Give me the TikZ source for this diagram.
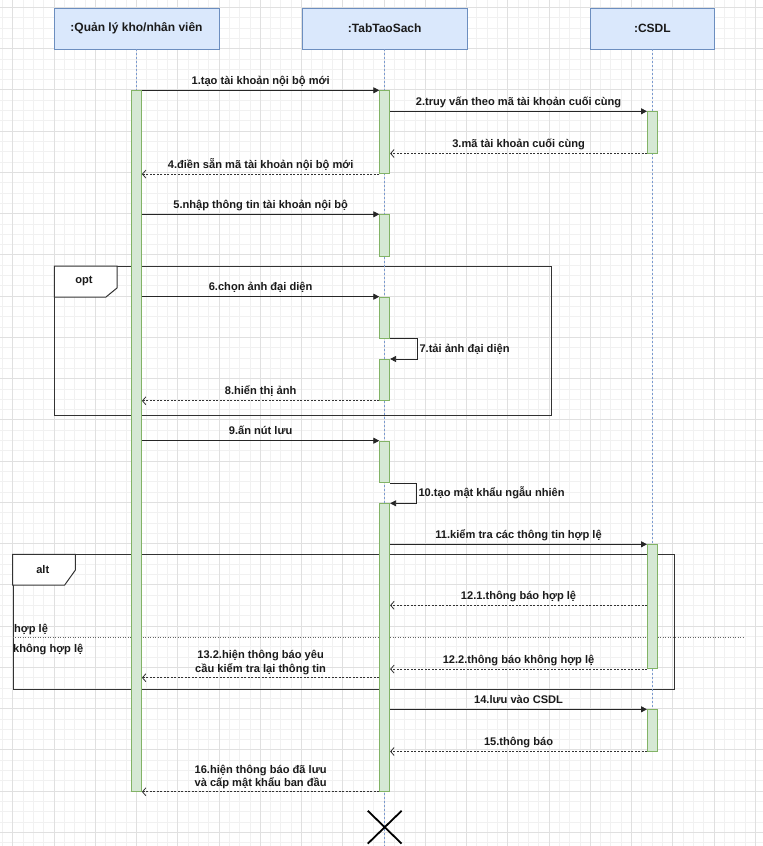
\documentclass[tikz,border=0pt]{standalone}
\usepackage{fontspec}
\setmainfont{Liberation Sans}
\usetikzlibrary{arrows.meta,shapes.misc,calc}
\definecolor{hdrfill}{HTML}{DAE8FC}
\definecolor{hdrline}{HTML}{6C8EBF}
\definecolor{actfill}{HTML}{D5E8D4}
\definecolor{actline}{HTML}{82B366}
\definecolor{gridminor}{HTML}{F1F1F1}
\definecolor{gridmajor}{HTML}{E0E0E0}
\definecolor{lifeblue}{HTML}{7A9AD0}
\definecolor{framecol}{HTML}{333333}
\definecolor{txt}{HTML}{1A1A1A}
\begin{document}
\begin{tikzpicture}[x=1pt,y=-1pt,
  hdr/.style={draw=hdrline, fill=hdrfill, line width=0.8pt, minimum height=41pt, inner sep=0pt, text=txt, font=\bfseries\fontsize{12}{14}\selectfont},
  act/.style={draw=actline, fill=actfill, line width=0.8pt, minimum width=10pt, inner sep=0pt, anchor=north},
  life/.style={draw=lifeblue, line width=0.7pt, dash pattern=on 2pt off 2pt},
  msg/.style={draw=black!85, line width=0.8pt, -{Triangle[length=6pt,width=6pt]}},
  ret/.style={draw=black!80, line width=0.8pt, dash pattern=on 2pt off 1.5pt, -{Straight Barb[length=3.5pt,width=8pt]}},
  lbl/.style={text=txt, font=\bfseries\fontsize{11.1}{13.5}\selectfont, text depth=2.5pt, inner xsep=1pt, inner ysep=3pt},
  lbltwo/.style={text=txt, font=\bfseries\fontsize{11.1}{13.5}\selectfont, align=center, inner xsep=1pt, inner ysep=2.5pt},
  selflbl/.style={text=txt, font=\bfseries\fontsize{11.1}{13.5}\selectfont, inner sep=2pt},
  frame/.style={draw=framecol, line width=1pt, inner sep=0pt},
  tabst/.style={draw=framecol, fill=white, line width=1pt},
  frlbl/.style={text=txt, font=\bfseries\fontsize{11.1}{13.5}\selectfont, inner sep=0pt},
  divider/.style={draw=black!60, line width=0.8pt, dash pattern=on 1pt off 1.5pt},
  gminor/.style={draw=gridminor, line width=0.7pt},
  gmajor/.style={draw=gridmajor, line width=0.8pt}
]
\useasboundingbox (0,0) rectangle (763,846);
\fill[white] (0,0) rectangle (763,846);
% grid
\begin{scope}
\clip (0,0) rectangle (763,846);
\foreach \k in {-1,...,73} {\pgfmathsetmacro\gx{12.7+\k*10.3125}\draw[gminor] (\gx,0) -- (\gx,846);}
\foreach \k in {-1,...,81} {\pgfmathsetmacro\gy{7.3+\k*10.3125}\draw[gminor] (0,\gy) -- (763,\gy);}
\foreach \k in {0,...,18} {\pgfmathsetmacro\gx{12.7+\k*41.25}\draw[gmajor] (\gx,0) -- (\gx,846);}
\foreach \k in {0,...,20} {\pgfmathsetmacro\gy{7.3+\k*41.25}\draw[gmajor] (0,\gy) -- (763,\gy);}
\end{scope}

% headers
\node[hdr, minimum width=165pt] (h1) at (136.5,28.5) {:Quản lý kho/nhân viên};
\node[hdr, minimum width=165pt] (h2) at (384.7,28.5) {:TabTaoSach};
\node[hdr, minimum width=124pt] (h3) at (652.4,28.5) {:CSDL};

% frames
\node[frame, minimum width=496.2pt, minimum height=149.3pt, anchor=north west] (optf) at (54.4,266) {};
\draw[tabst] (optf.north west) -- ++(62.6,0) -- ++(0,22) -- ++(-11,9) -- ++(-51.6,0) -- cycle;
\node[frlbl] (optl) at (84,281) {opt};

\node[frame, minimum width=660.8pt, minimum height=134.7pt, anchor=north west] (altf) at (12.7,554.3) {};
\draw[tabst] (altf.north west) -- ++(62.7,0) -- ++(0,15.7) -- ++(-10.7,15) -- ++(-52,0) -- cycle;
\node[frlbl] (altl) at (42.8,570) {alt};
\coordinate (divl) at (12.7,637.3);
\coordinate (divr) at (745,637.3);
\draw[divider] (divl) -- (divr);
\node[frlbl, anchor=west] (g1) at (14,629) {hợp lệ};
\node[frlbl, anchor=west] (g2) at (13,650) {không hợp lệ};

% lifelines
\coordinate (bottom) at (0,846);
\draw[life] (h1.south) -- (h1.south |- 0,791);
\draw[life] (h2.south) -- (h2.south |- bottom);
\draw[life] (h3.south) -- (h3.south |- 0,750.7);

% activations
\node[act, minimum height=700.7pt] (u1) at (136.5,90.3) {};
\node[act, minimum height=83pt] (t1) at (384.7,90.3) {};
\node[act, minimum height=41.4pt] (c1) at (652.4,111.3) {};
\node[act, minimum height=41.7pt] (t2) at (384.7,214.3) {};
\node[act, minimum height=41.3pt] (t3) at (384.7,296.7) {};
\node[act, minimum height=41pt] (t4) at (384.7,359) {};
\node[act, minimum height=41.6pt] (t5) at (384.7,440.7) {};
\node[act, minimum height=287.7pt] (t6) at (384.7,503.3) {};
\node[act, minimum height=124pt] (c2) at (652.4,544.3) {};
\node[act, minimum height=41.4pt] (c3) at (652.4,709.3) {};

% messages
\draw[msg] (u1.north east) -- node[lbl, above] {1.tạo tài khoản nội bộ mới} (t1.north west);
\draw[msg] (t1.east |- c1.north) -- node[lbl, above] {2.truy vấn theo mã tài khoản cuối cùng} (c1.north west);
\draw[ret] (c1.south west) -- node[lbl, above] {3.mã tài khoản cuối cùng} (t1.east |- c1.south);
\draw[ret] (t1.south west) -- node[lbl, above] {4.điền sẵn mã tài khoản nội bộ mới} (u1.east |- t1.south);
\draw[msg] (u1.east |- t2.north) -- node[lbl, above] {5.nhập thông tin tài khoản nội bộ} (t2.north west);
\draw[msg] (u1.east |- t3.north) -- node[lbl, above] {6.chọn ảnh đại diện} (t3.north west);
\draw[msg] (t3.south east) -- ++(27,0) |- node[selflbl, right, pos=0.25] {7.tải ảnh đại diện} (t4.north east);
\draw[ret] (t4.south west) -- node[lbl, above] {8.hiển thị ảnh} (u1.east |- t4.south);
\draw[msg] (u1.east |- t5.north) -- node[lbl, above] {9.ấn nút lưu} (t5.north west);
\draw[msg] (t5.south east) -- ++(26,0) |- node[selflbl, right, pos=0.25] {10.tạo mật khẩu ngẫu nhiên} (t6.north east);
\draw[msg] (t6.east |- c2.north) -- node[lbl, above] {11.kiểm tra các thông tin hợp lệ} (c2.north west);
\coordinate (ya) at (0,605.3);
\draw[ret] (c2.west |- ya) -- node[lbl, above] {12.1.thông báo hợp lệ} (t6.east |- ya);
\draw[ret] (c2.south west) -- node[lbl, above] {12.2.thông báo không hợp lệ} (t6.east |- c2.south);
\coordinate (yb) at (0,677.7);
\draw[ret] (t6.west |- yb) -- node[lbltwo, above] {13.2.hiện thông báo yêu\\cầu kiểm tra lại thông tin} (u1.east |- yb);
\draw[msg] (t6.east |- c3.north) -- node[lbl, above] {14.lưu vào CSDL} (c3.north west);
\draw[ret] (c3.south west) -- node[lbl, above] {15.thông báo} (t6.east |- c3.south);
\draw[ret] (t6.south west) -- node[lbltwo, above] {16.hiện thông báo đã lưu\\và cấp mật khẩu ban đầu} (u1.east |- t6.south);

% destroy
\node[draw=black, cross out, line width=1.8pt, minimum width=32pt, minimum height=31pt, inner sep=0pt] (endx) at (384.7,827.2) {};
\end{tikzpicture}
\end{document}
